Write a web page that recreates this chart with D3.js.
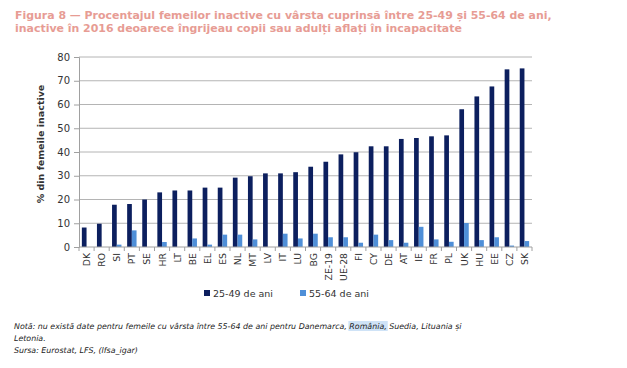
<!DOCTYPE html>
<html><head><meta charset="utf-8">
<script src="https://cdn.jsdelivr.net/npm/d3@7"></script>
<style>body{margin:0;background:#fff;} svg{display:block;}</style>
</head><body>
<script>
const categories = ["DK","RO","SI","PT","SE","HR","LT","BE","EL","ES","NL","MT","LV","IT","LU","BG","ZE-19","UE-28","FI","CY","DE","AT","IE","FR","PL","UK","HU","EE","CZ","SK"];
const age2549 = [8.2,9.8,17.8,18.1,20,23,23.8,23.8,25,25,29.2,29.8,31,31,31.5,33.8,35.9,39,39.9,42.4,42.4,45.5,45.9,46.6,47,58,63.4,67.6,74.8,75.2];
const age5564 = [null,null,1,7,null,2.1,null,3.6,1,5.2,5.2,3.2,null,5.6,3.6,5.6,4.1,4.1,1.8,5.2,2.9,1.8,8.5,3.2,2.2,10.1,2.9,4.1,0.6,2.5];
const yTicks = [0,10,20,30,40,50,60,70,80];
const seriesNames = ["25-49 de ani","55-64 de ani"];
const colors = ["#0c1f5e","#4f8fd8"];

const W=627,H=368;
const svg=d3.select("body").append("svg").attr("width",W).attr("height",H);
const font="DejaVu Sans, Verdana, sans-serif";

// title
const title=svg.append("text").attr("font-family",font).attr("font-weight","bold").attr("font-size",10.95).attr("fill","#e79c94");
title.append("tspan").attr("x",15).attr("y",19).text("Figura 8 — Procentajul femeilor inactive cu vârsta cuprinsă între 25-49 și 55-64 de ani,");
title.append("tspan").attr("x",15).attr("y",32).text("inactive în 2016 deoarece îngrijeau copii sau adulți aflați în incapacitate");

const x=d3.scaleBand().domain(categories).range([79,532]).paddingInner(0).paddingOuter(0);
const y=d3.scaleLinear().domain([0,80]).range([247,57]);
const bw=4.7;

// gridlines
svg.append("g").selectAll("line").data(yTicks.filter(d=>d>0)).join("line")
 .attr("x1",79).attr("x2",532).attr("y1",d=>y(d)).attr("y2",d=>y(d))
 .attr("stroke","#b4b4b4").attr("stroke-width",1);

// bars
const g=svg.append("g");
g.selectAll("rect.a").data(categories).join("rect").attr("class","a")
 .attr("x",d=>x(d)+x.bandwidth()/2-bw).attr("width",bw)
 .attr("y",(d,i)=>y(age2549[i])).attr("height",(d,i)=>y(0)-y(age2549[i]))
 .attr("fill",colors[0]);
g.selectAll("rect.b").data(categories.filter((d,i)=>age5564[i]!=null)).join("rect").attr("class","b")
 .attr("x",d=>x(d)+x.bandwidth()/2).attr("width",bw)
 .attr("y",d=>y(age5564[categories.indexOf(d)])).attr("height",d=>y(0)-y(age5564[categories.indexOf(d)]))
 .attr("fill",colors[1]);

// y axis
const ya=svg.append("g").attr("transform","translate(79,0)")
 .call(d3.axisLeft(y).tickValues(yTicks).tickSize(5).tickPadding(4));
ya.select(".domain").attr("stroke","#a0a0a0");
ya.selectAll(".tick line").attr("stroke","#a0a0a0");
ya.selectAll("text").attr("font-family",font).attr("font-size",10).attr("fill","#333");

// x axis
const xa=svg.append("g").attr("transform","translate(0,247)");
xa.append("line").attr("x1",79).attr("x2",532).attr("stroke","#a0a0a0");
xa.selectAll("line.t").data(d3.range(categories.length+1)).join("line").attr("class","t")
 .attr("x1",i=>79+i*x.step()).attr("x2",i=>79+i*x.step()).attr("y1",0).attr("y2",4).attr("stroke","#a0a0a0");
xa.selectAll("text").data(categories).join("text")
 .attr("transform",d=>`translate(${x(d)+x.bandwidth()/2+3.5},6) rotate(-90)`)
 .attr("text-anchor","end").attr("font-family",font).attr("font-size",9.3).attr("fill","#333")
 .text(d=>d);

// y title
svg.append("text").attr("transform","translate(44,144) rotate(-90)").attr("text-anchor","middle")
 .attr("font-family",font).attr("font-weight","bold").attr("font-size",9.5).attr("fill","#333")
 .text("% din femeile inactive");

// legend
const lg=svg.append("g");
const lx=[204,300];
seriesNames.forEach((n,i)=>{
  lg.append("rect").attr("x",lx[i]).attr("y",290).attr("width",6).attr("height",6).attr("fill",colors[i]);
  lg.append("text").attr("x",lx[i]+9).attr("y",297).attr("font-family",font).attr("font-size",9.5).attr("fill","#333").text(n);
});

// note
const note=svg.append("g").attr("font-family",font).attr("font-style","italic").attr("font-size",7.9).attr("fill","#222");
const hl=note.append("rect").attr("y",321).attr("height",10).attr("fill","#cfe3f7");
const t1=note.append("text").attr("x",14).attr("y",329);
t1.append("tspan").text("Notă: nu există date pentru femeile cu vârsta între 55-64 de ani pentru Danemarca, ");
const ro=t1.append("tspan").text("România,");
t1.append("tspan").text(" Suedia, Lituania și");
note.append("text").attr("x",14).attr("y",341).text("Letonia.");
note.append("text").attr("x",14).attr("y",353).text("Sursa: Eurostat, LFS, (lfsa_igar)");
const pre="Notă: nu există date pentru femeile cu vârsta între 55-64 de ani pentru Danemarca, ".length;
const el=t1.node();
const sx=el.getStartPositionOfChar(pre).x;
const ex=el.getEndPositionOfChar(pre+"România,".length-1).x;
hl.attr("x",sx-1).attr("width",ex-sx+2);
</script>
</body></html>
